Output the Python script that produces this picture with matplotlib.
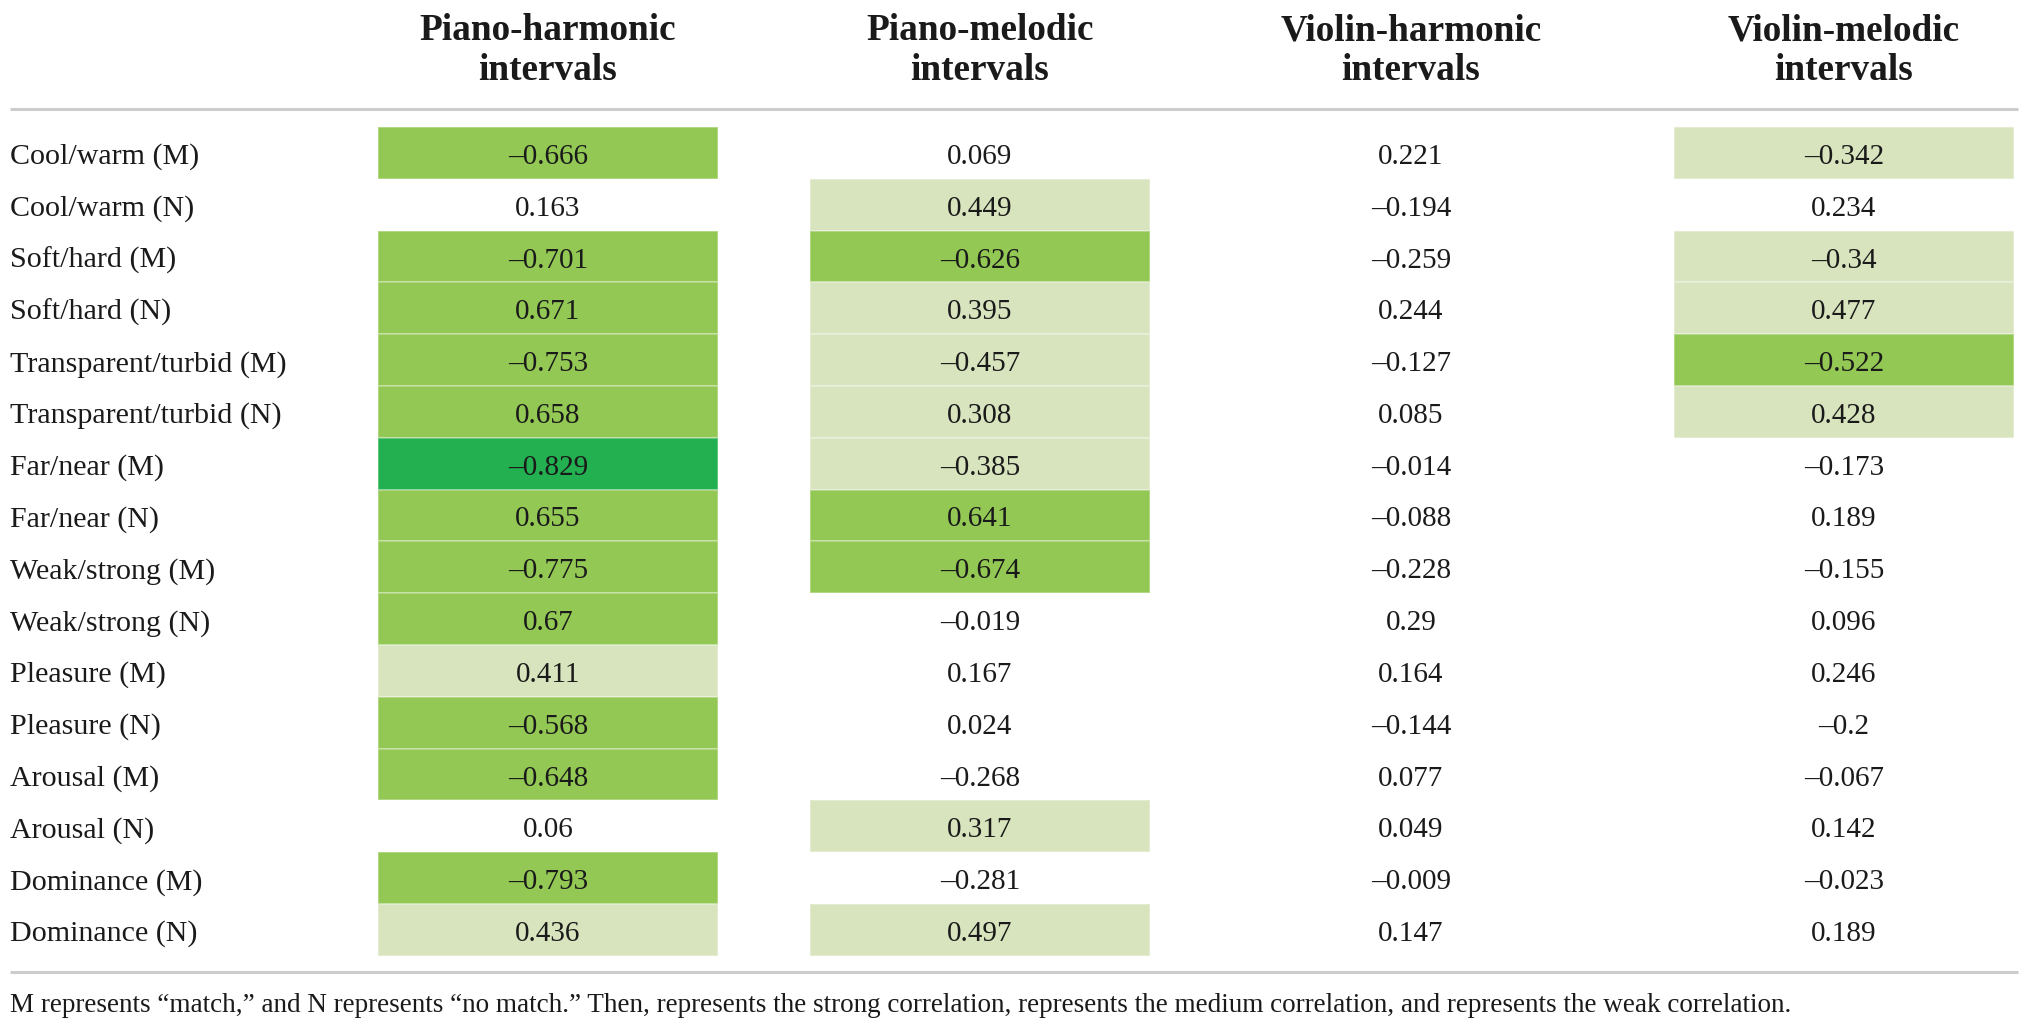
import matplotlib
matplotlib.use("Agg")
import matplotlib.pyplot as plt
from matplotlib.patches import Rectangle

# ---------------- data ----------------
row_labels = [
    "Cool/warm (M)", "Cool/warm (N)", "Soft/hard (M)", "Soft/hard (N)",
    "Transparent/turbid (M)", "Transparent/turbid (N)", "Far/near (M)", "Far/near (N)",
    "Weak/strong (M)", "Weak/strong (N)", "Pleasure (M)", "Pleasure (N)",
    "Arousal (M)", "Arousal (N)", "Dominance (M)", "Dominance (N)",
]
col_labels = ["Piano-harmonic\nintervals", "Piano-melodic\nintervals",
              "Violin-harmonic\nintervals", "Violin-melodic\nintervals"]

piano_harmonic = [-0.666, 0.163, -0.701, 0.671, -0.753, 0.658, -0.829, 0.655,
                  -0.775, 0.67, 0.411, -0.568, -0.648, 0.06, -0.793, 0.436]
piano_melodic = [0.069, 0.449, -0.626, 0.395, -0.457, 0.308, -0.385, 0.641,
                 -0.674, -0.019, 0.167, 0.024, -0.268, 0.317, -0.281, 0.497]
violin_harmonic = [0.221, -0.194, -0.259, 0.244, -0.127, 0.085, -0.014, -0.088,
                   -0.228, 0.29, 0.164, -0.144, 0.077, 0.049, -0.009, 0.147]
violin_melodic = [-0.342, 0.234, -0.34, 0.477, -0.522, 0.428, -0.173, 0.189,
                  -0.155, 0.096, 0.246, -0.2, -0.067, 0.142, -0.023, 0.189]

# correlation strength: 0 none, 1 weak, 2 medium, 3 strong
ph_level = [2, 0, 2, 2, 2, 2, 3, 2, 2, 2, 1, 2, 2, 0, 2, 1]
pm_level = [0, 1, 2, 1, 1, 1, 1, 2, 2, 0, 0, 0, 0, 1, 0, 1]
vh_level = [0, 0, 0, 0, 0, 0, 0, 0, 0, 0, 0, 0, 0, 0, 0, 0]
vm_level = [1, 0, 1, 1, 2, 1, 0, 0, 0, 0, 0, 0, 0, 0, 0, 0]

footnote = ("M represents \u201cmatch,\u201d and N represents \u201cno match.\u201d Then, represents the "
            "strong correlation, represents the medium correlation, and represents the weak correlation.")

# ---------------- style ----------------
level_colors = {1: "#d8e4bd", 2: "#92c853", 3: "#22b050"}
serif = ["Liberation Serif", "DejaVu Serif"]
text_color = "#1a1a1a"

W, H = 2030, 1032
fig = plt.figure(figsize=(W / 100, H / 100), dpi=100)
ax = fig.add_axes([0, 0, 1, 1])
ax.set_xlim(0, W)
ax.set_ylim(H, 0)
ax.axis("off")

columns = [piano_harmonic, piano_melodic, violin_harmonic, violin_melodic]
levels = [ph_level, pm_level, vh_level, vm_level]
col_centers = [548, 980, 1411, 1844]
cell_w = 340
row_top = 127
row_h = 51.8
text_dy = 4

# headers
for cx, lab in zip(col_centers, col_labels):
    l1, l2 = lab.split("\n")
    ax.text(cx, 31, l1, ha="center", va="center", fontsize=26.8, fontweight="bold",
            family=serif, color=text_color)
    ax.text(cx, 71, l2, ha="center", va="center", fontsize=26.8, fontweight="bold",
            family=serif, color=text_color)

# rules
ax.plot([10, 2018], [109, 109], color="#cccccc", lw=2.2, solid_capstyle="butt")
ax.plot([10, 2018], [972, 972], color="#cccccc", lw=2.2, solid_capstyle="butt")

# rows
for i, lab in enumerate(row_labels):
    yc = row_top + (i + 0.5) * row_h
    ax.text(10, yc + text_dy, lab, ha="left", va="center", fontsize=21.6, family=serif,
            color=text_color)
    for cx, vals, lv in zip(col_centers, columns, levels):
        if lv[i] > 0:
            ax.add_patch(Rectangle((cx - cell_w / 2, row_top + i * row_h), cell_w, row_h,
                                   facecolor=level_colors[lv[i]],
                                   edgecolor=(1, 1, 1, 0.35), lw=1.2))
        s = str(vals[i]).replace("-", "\u2013")
        ax.text(cx, yc + text_dy, s, ha="center", va="center", fontsize=21, family=serif,
                color=text_color)

ax.text(10, 1005, footnote, ha="left", va="center", fontsize=19.5, family=serif, color=text_color)

fig.savefig("out.png", dpi=100)
